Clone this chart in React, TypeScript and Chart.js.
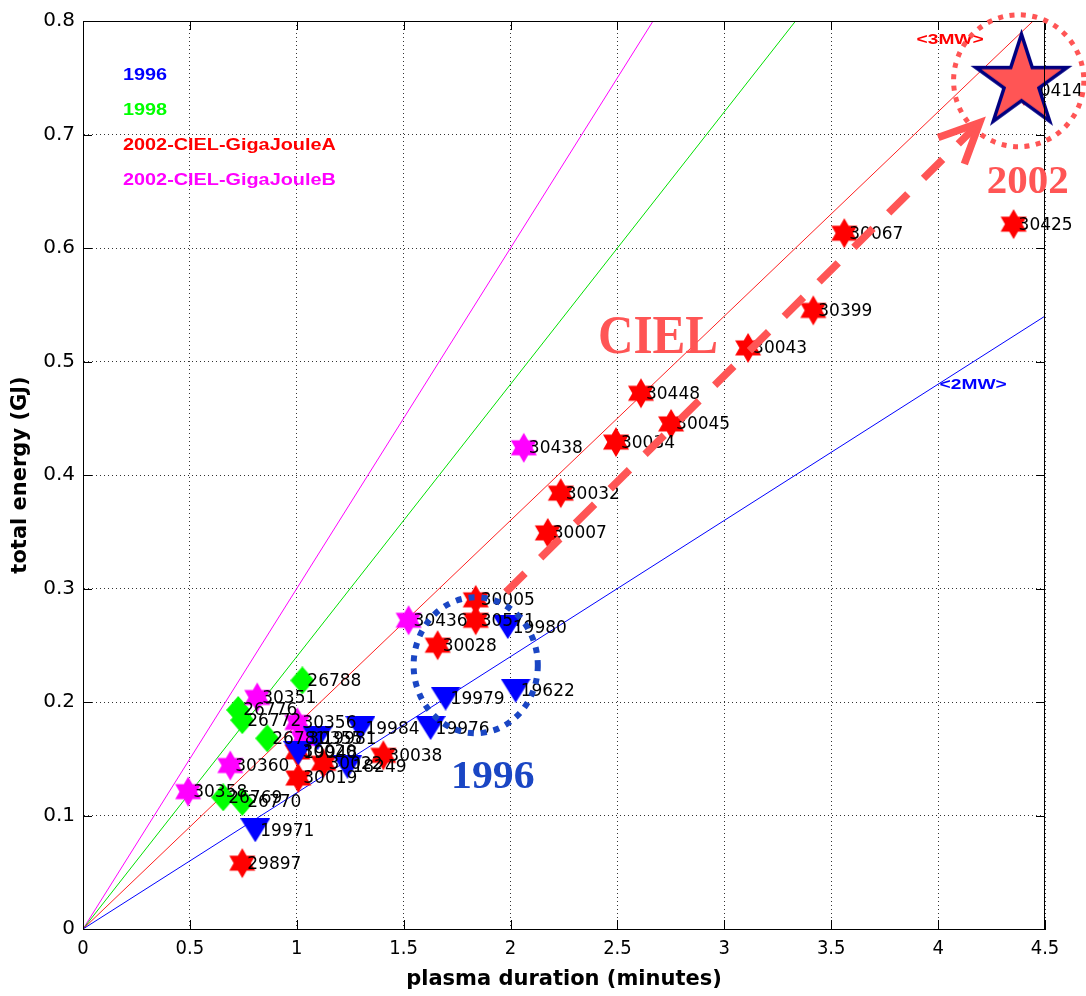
import React, { useEffect, useRef } from "react";
import { Chart, registerables } from "chart.js";

Chart.register(...registerables);

const CANVAS_W = 1086;
const CANVAS_H = 996;

// ---- axes
const xMin = 0;
const xMax = 4.5;
const xStep = 0.5;
const yMin = 0;
const yMax = 0.8;
const yStep = 0.1;
const xTitle = "plasma duration (minutes)";
const yTitle = "total energy (GJ)";

// ---- 1996 shots (blue triangles)
const shots1996 = ["19980", "19622", "19979", "19976", "19984", "19971", "18249", "19948", "19981"];
const duration1996 = [1.987, 2.024, 1.696, 1.626, 1.298, 0.806, 1.237, 1.007, 1.097];
const energy1996 = [0.266, 0.21, 0.203, 0.177, 0.177, 0.087, 0.143, 0.155, 0.168];

// ---- 1998 shots (green diamonds)
const shots1998 = ["26788", "26776", "26772", "26781", "26769", "26770"];
const duration1998 = [1.026, 0.726, 0.745, 0.862, 0.656, 0.745];
const energy1998 = [0.219, 0.193, 0.184, 0.168, 0.116, 0.112];

// ---- 2002-CIEL-GigaJouleA (red hexagrams)
const shotsA = ["30414", "30425", "30067", "30399", "30043", "30448", "30045", "30034", "30032", "30007", "30005", "30571", "30028", "30038", "30019", "30020", "30022", "29897"];
const durationA = [4.401, 4.353, 3.561, 3.416, 3.111, 2.61, 2.751, 2.493, 2.235, 2.174, 1.837, 1.837, 1.659, 1.405, 1.007, 1.003, 1.125, 0.745];
const energyA = [0.7386, 0.621, 0.613, 0.545, 0.512, 0.472, 0.445, 0.429, 0.384, 0.349, 0.29, 0.272, 0.25, 0.153, 0.133, 0.156, 0.146, 0.058];

// ---- 2002-CIEL-GigaJouleB (magenta hexagrams)
const shotsB = ["30438", "30436", "30351", "30356", "30360", "30358", "30355"];
const durationB = [2.062, 1.523, 0.815, 1.003, 0.689, 0.492, 1.03];
const energyB = [0.424, 0.272, 0.204, 0.182, 0.144, 0.121, 0.168];

// ---- highlighted record shot (big star)
const highlightDuration = [4.39];
const highlightEnergy = [0.746];

// ---- constant-power reference lines (2, 3, 4, 5 MW)
const refLineX = [0, 4.5];
const refLineEndEnergy = [0.54, 0.81, 1.08, 1.35];
const refLineColors = ["#0000ff", "#ff2020", "#00e000", "#ff00ff"];

// ---- legend entries
const legendLabels = ["1996", "1998", "2002-CIEL-GigaJouleA", "2002-CIEL-GigaJouleB"];
const legendColors = ["#0000ff", "#00ff00", "#ff0000", "#ff00ff"];

// ---- annotations (data coordinates)
const SALMON = "#ff5555";
const DARKBLUE = "#1a46c4";
const cielPos = { x: 2.69, y: 0.52 };
const year2002Pos = { x: 4.419, y: 0.657 };
const year1996Pos = { x: 1.917, y: 0.133 };
const mw2Pos = { x: 4.007, y: 0.479 };
const mw3Pos = { x: 3.899, y: 0.7835 };
const arrowStart = { x: 1.978, y: 0.2967 };
const arrowEnd = { x: 4.194, y: 0.7104 };
const ellipse1996 = { x: 1.837, y: 0.2324, rx: 0.2905, ry: 0.0599 };
const circle2002 = { x: 4.377, y: 0.7474, rx: 0.3046, ry: 0.0581 };

function pts(xs: number[], ys: number[]) {
  return xs.map((x, i) => ({ x, y: ys[i] }));
}

function makeCanvas(w: number, h: number) {
  const c = document.createElement("canvas");
  c.width = w;
  c.height = h;
  return c;
}

function makeHexagram(color: string, R: number) {
  const size = Math.ceil(R * 2 + 2);
  const c = makeCanvas(size, size);
  const ctx = c.getContext("2d")!;
  const cx = size / 2;
  const cy = size / 2;
  ctx.fillStyle = color;
  ctx.beginPath();
  for (let k = 0; k < 12; k++) {
    const r = k % 2 === 0 ? R : R / Math.sqrt(3);
    const a = -Math.PI / 2 + (k * Math.PI) / 6;
    const px = cx + r * Math.cos(a);
    const py = cy + r * Math.sin(a);
    if (k === 0) ctx.moveTo(px, py);
    else ctx.lineTo(px, py);
  }
  ctx.closePath();
  ctx.fill();
  return c;
}

function makeDiamond(color: string, w: number, h: number) {
  const c = makeCanvas(w, h);
  const ctx = c.getContext("2d")!;
  ctx.fillStyle = color;
  ctx.beginPath();
  ctx.moveTo(w / 2, 0);
  ctx.lineTo(w, h / 2);
  ctx.lineTo(w / 2, h);
  ctx.lineTo(0, h / 2);
  ctx.closePath();
  ctx.fill();
  return c;
}

function makeTriangleDown(color: string, w: number, h: number) {
  const c = makeCanvas(w, h);
  const ctx = c.getContext("2d")!;
  ctx.fillStyle = color;
  ctx.beginPath();
  ctx.moveTo(0, 0);
  ctx.lineTo(w, 0);
  ctx.lineTo(w / 2, h);
  ctx.closePath();
  ctx.fill();
  return c;
}

function makePentagram(fill: string, stroke: string, R: number, lw: number) {
  const size = Math.ceil(R * 2 + lw * 2 + 4);
  const c = makeCanvas(size, size);
  const ctx = c.getContext("2d")!;
  const cx = size / 2;
  const cy = size / 2;
  const r = R * 0.382;
  ctx.beginPath();
  for (let k = 0; k < 10; k++) {
    const rr = k % 2 === 0 ? R : r;
    const a = -Math.PI / 2 + (k * Math.PI) / 5;
    const px = cx + rr * Math.cos(a);
    const py = cy + rr * Math.sin(a);
    if (k === 0) ctx.moveTo(px, py);
    else ctx.lineTo(px, py);
  }
  ctx.closePath();
  ctx.fillStyle = fill;
  ctx.fill();
  ctx.lineWidth = lw;
  ctx.strokeStyle = stroke;
  ctx.lineJoin = "miter";
  ctx.stroke();
  return c;
}

function drawText(
  ctx: CanvasRenderingContext2D,
  text: string,
  x: number,
  y: number,
  font: string,
  color: string,
  sx = 1,
  align: CanvasTextAlign = "left"
) {
  ctx.save();
  ctx.translate(x, y);
  ctx.scale(sx, 1);
  ctx.font = font;
  ctx.fillStyle = color;
  ctx.textAlign = align;
  ctx.textBaseline = "middle";
  ctx.fillText(text, 0, 0);
  ctx.restore();
}

const fmtTick = (v: any) => String(Math.round(Number(v) * 100) / 100);

export default function App() {
  const ref = useRef<HTMLCanvasElement | null>(null);

  useEffect(() => {
    document.body.style.margin = "0";
    const canvas = ref.current;
    if (!canvas) return;

    const hexRed = makeHexagram("#ff0000", 15);
    const hexMag = makeHexagram("#ff00ff", 15);
    const diamond = makeDiamond("#00ff00", 24, 28);
    const triDown = makeTriangleDown("#0000ff", 30, 24);
    const bigStar = makePentagram(SALMON, "#000080", 48, 3.5);

    const labelMap: Record<number, string[]> = {
      1: shots1996,
      2: shotsB,
      3: shots1998,
      4: shotsA,
    };

    const overlay = {
      id: "overlay",
      beforeDatasetDraw(chart: any, args: any) {
        if (args.index !== 0) return;
        const ctx: CanvasRenderingContext2D = chart.ctx;
        const xs = chart.scales.x;
        const ys = chart.scales.y;
        Object.keys(labelMap).forEach((k) => {
          const idx = Number(k);
          const ds = chart.data.datasets[idx];
          const labels = labelMap[idx];
          ds.data.forEach((p: any, i: number) => {
            const px = xs.getPixelForValue(p.x);
            const py = ys.getPixelForValue(p.y);
            drawText(ctx, labels[i], px + 5, py + 1, "17px 'DejaVu Sans'", "#000");
          });
        });
      },
      afterDatasetsDraw(chart: any) {
        const ctx: CanvasRenderingContext2D = chart.ctx;
        const xs = chart.scales.x;
        const ys = chart.scales.y;
        const a = chart.chartArea;
        const X = (v: number) => xs.getPixelForValue(v);
        const Y = (v: number) => ys.getPixelForValue(v);

        // frame + inward ticks
        ctx.save();
        ctx.strokeStyle = "#000";
        ctx.lineWidth = 1;
        ctx.setLineDash([]);
        ctx.strokeRect(a.left + 0.5, a.top + 0.5, a.right - a.left - 1, a.bottom - a.top);
        const tl = 9;
        ctx.beginPath();
        xs.ticks.forEach((t: any) => {
          const px = Math.round(X(t.value)) + 0.5;
          ctx.moveTo(px, a.bottom);
          ctx.lineTo(px, a.bottom - tl);
          ctx.moveTo(px, a.top);
          ctx.lineTo(px, a.top + tl);
        });
        ys.ticks.forEach((t: any) => {
          const py = Math.round(Y(t.value)) + 0.5;
          ctx.moveTo(a.left, py);
          ctx.lineTo(a.left + tl, py);
          ctx.moveTo(a.right, py);
          ctx.lineTo(a.right - tl, py);
        });
        ctx.stroke();
        ctx.restore();

        // power labels
        drawText(ctx, "<2MW>", X(mw2Pos.x), Y(mw2Pos.y), "bold 14px 'Liberation Sans'", "#0000ff", 1.37);
        drawText(ctx, "<3MW>", X(mw3Pos.x), Y(mw3Pos.y), "bold 14px 'Liberation Sans'", "#ff0000", 1.37);

        // dashed arrow
        const sx = X(arrowStart.x);
        const sy = Y(arrowStart.y);
        const ex = X(arrowEnd.x);
        const ey = Y(arrowEnd.y);
        ctx.save();
        ctx.strokeStyle = SALMON;
        ctx.lineWidth = 7.5;
        ctx.lineCap = "butt";
        ctx.setLineDash([27, 22]);
        ctx.beginPath();
        ctx.moveTo(sx, sy);
        ctx.lineTo(ex, ey);
        ctx.stroke();
        ctx.setLineDash([]);
        const ang = Math.atan2(sy - ey, sx - ex);
        const armLen = 44;
        const spread = (25 * Math.PI) / 180;
        ctx.lineJoin = "miter";
        ctx.beginPath();
        ctx.moveTo(ex + armLen * Math.cos(ang + spread), ey + armLen * Math.sin(ang + spread));
        ctx.lineTo(ex, ey);
        ctx.lineTo(ex + armLen * Math.cos(ang - spread), ey + armLen * Math.sin(ang - spread));
        ctx.stroke();
        ctx.restore();

        // dotted ellipse (1996)
        ctx.save();
        ctx.strokeStyle = DARKBLUE;
        ctx.lineWidth = 6;
        ctx.setLineDash([6, 7]);
        ctx.beginPath();
        ctx.ellipse(
          X(ellipse1996.x),
          Y(ellipse1996.y),
          Math.abs(X(ellipse1996.x + ellipse1996.rx) - X(ellipse1996.x)),
          Math.abs(Y(ellipse1996.y + ellipse1996.ry) - Y(ellipse1996.y)),
          0,
          0,
          Math.PI * 2
        );
        ctx.stroke();
        // dotted circle (2002)
        ctx.strokeStyle = SALMON;
        ctx.lineWidth = 5;
        ctx.setLineDash([5, 6.5]);
        ctx.beginPath();
        ctx.ellipse(
          X(circle2002.x),
          Y(circle2002.y),
          Math.abs(X(circle2002.x + circle2002.rx) - X(circle2002.x)),
          Math.abs(Y(circle2002.y + circle2002.ry) - Y(circle2002.y)),
          0,
          0,
          Math.PI * 2
        );
        ctx.stroke();
        ctx.restore();

        // big annotation texts
        drawText(ctx, "CIEL", X(cielPos.x), Y(cielPos.y), "bold 54px 'Liberation Serif'", SALMON, 0.91, "center");
        drawText(ctx, "2002", X(year2002Pos.x), Y(year2002Pos.y), "bold 39px 'Liberation Serif'", SALMON, 1.05, "center");
        drawText(ctx, "1996", X(year1996Pos.x), Y(year1996Pos.y), "bold 39px 'Liberation Serif'", DARKBLUE, 1.07, "center");

        // legend text
        legendLabels.forEach((lab, i) => {
          drawText(ctx, lab, a.left + 40, a.top + 55 + i * 34.7, "bold 16px 'Liberation Sans'", legendColors[i], 1.24);
        });
      },
    };

    const refDatasets = refLineEndEnergy.map((e, i) => ({
      label: "",
      data: pts(refLineX, [0, e]),
      showLine: true,
      borderColor: refLineColors[i],
      borderWidth: 1,
      pointRadius: 0,
      clip: 0,
    }));

    const chart = new Chart(canvas, {
      type: "scatter",
      data: {
        datasets: [
          {
            label: "",
            data: pts(highlightDuration, highlightEnergy),
            pointStyle: bigStar as any,
            pointRadius: 20,
            clip: false,
          },
          {
            label: legendLabels[0],
            data: pts(duration1996, energy1996),
            pointStyle: triDown as any,
            pointRadius: 12,
            backgroundColor: legendColors[0],
            borderColor: legendColors[0],
            clip: false,
          },
          {
            label: legendLabels[3],
            data: pts(durationB, energyB),
            pointStyle: hexMag as any,
            pointRadius: 12,
            backgroundColor: legendColors[3],
            borderColor: legendColors[3],
            clip: false,
          },
          {
            label: legendLabels[1],
            data: pts(duration1998, energy1998),
            pointStyle: diamond as any,
            pointRadius: 12,
            backgroundColor: legendColors[1],
            borderColor: legendColors[1],
            clip: false,
          },
          {
            label: legendLabels[2],
            data: pts(durationA, energyA),
            pointStyle: hexRed as any,
            pointRadius: 12,
            backgroundColor: legendColors[2],
            borderColor: legendColors[2],
            clip: false,
          },
          ...refDatasets,
        ] as any,
      },
      options: {
        responsive: false,
        animation: false,
        events: [],
        layout: { padding: { top: 20, right: 41, left: 0, bottom: 0 } },
        plugins: {
          legend: { display: false },
          tooltip: { enabled: false },
        },
        scales: {
          x: {
            type: "linear",
            min: xMin,
            max: xMax,
            ticks: {
              stepSize: xStep,
              color: "#000",
              padding: 8,
              callback: fmtTick,
              font: { family: "'Liberation Sans Narrow', 'DejaVu Sans Condensed', 'Liberation Sans'", size: 20 },
            },
            grid: { color: "#333", lineWidth: 1, drawTicks: false },
            border: { display: true, color: "#000", width: 1, dash: [1, 3] },
            title: {
              display: true,
              text: xTitle,
              color: "#000",
              font: { family: "'DejaVu Sans'", size: 21, weight: "bold" },
              padding: { top: 0, bottom: 4 },
            },
            afterFit: (s: any) => {
              s.height = 67;
            },
          },
          y: {
            type: "linear",
            min: yMin,
            max: yMax,
            ticks: {
              stepSize: yStep,
              color: "#000",
              padding: 8,
              callback: fmtTick,
              font: { family: "'DejaVu Sans'", size: 20 },
            },
            grid: { color: "#333", lineWidth: 1, drawTicks: false },
            border: { display: true, color: "#000", width: 1, dash: [1, 3] },
            title: {
              display: true,
              text: yTitle,
              color: "#000",
              font: { family: "'DejaVu Sans'", size: 21, weight: "bold" },
              padding: { top: 8, bottom: 0 },
            },
            afterFit: (s: any) => {
              s.width = 83;
            },
          },
        },
      } as any,
      plugins: [overlay as any],
    });

    return () => {
      chart.destroy();
    };
  }, []);

  return (
    <canvas
      ref={ref}
      width={CANVAS_W}
      height={CANVAS_H}
      style={{ display: "block", width: CANVAS_W, height: CANVAS_H }}
    />
  );
}
